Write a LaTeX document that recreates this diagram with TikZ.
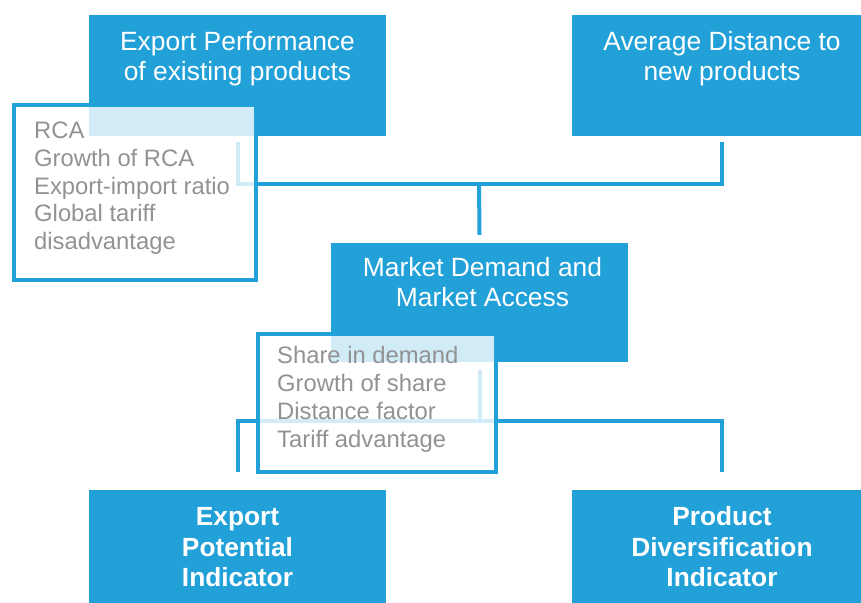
\documentclass[tikz,border=0pt]{standalone}
\usepackage{fontspec}
\setmainfont{Liberation Sans}
\usepackage{tikz}
\usetikzlibrary{positioning}
\definecolor{epblue}{RGB}{34,160,216}
\definecolor{epgray}{RGB}{146,146,148}

\tikzset{
  blockbox/.style={rectangle, fill=epblue, inner sep=0pt, minimum width=297pt, minimum height=121pt},
  listbox/.style={rectangle, draw=epblue, line width=4pt, fill=white, fill opacity=0.8, inner sep=0pt},
  headtext/.style={text=white, align=center, inner sep=0pt, font=\fontsize{26.4}{30}\selectfont},
  boldtext/.style={text=white, align=center, inner sep=0pt, font=\fontsize{26.3}{30.5}\selectfont\bfseries},
  listtext/.style={text=epgray, align=left, inner sep=0pt, font=\fontsize{23.8}{27.7}\selectfont},
  link/.style={draw=epblue, line width=4pt}
}

\begin{document}
\begin{tikzpicture}[x=1pt,y=-1pt]
\useasboundingbox (0,0) rectangle (861,602);
% Top boxes (base = baseline of the last line)
\node[blockbox] (perf) at (237.5,75.5) {};
\node[headtext, anchor=base] (perf-t) at ([yshift=-66pt]perf.north) {Export Performance\\of existing products};
\node[blockbox, minimum width=300pt] (dist) at (722,75.5) {};
\node[headtext, anchor=base] (dist-t) at ([yshift=-66pt]dist.north) {Average Distance to\\new products};
% Upper connector
\draw[link] ([yshift=-6pt]perf.south) -- ++(0,42) coordinate (hub1) -| ([yshift=-6pt]dist.south);
\coordinate (hub1m) at (479,184);
% Middle box
\node[blockbox, minimum height=119pt] (market) at (479.5,302.5) {};
\node[headtext, anchor=base] (market-t) at ([xshift=3pt,yshift=-64pt]market.north) {Market Demand and\\Market Access};
\draw[link] (hub1m) -- ([yshift=8pt]market.north);
% Lower connector
\draw[link] ([yshift=-8pt]market.south) -- ++(0,51) coordinate (hub2);
\node[blockbox, minimum height=120pt] (epi) at (237.5,550) {};
\node[blockbox, minimum width=300pt, minimum height=120pt] (pdi) at (722,550) {};
\draw[link] ([yshift=18pt]epi.north) |- (hub2) -| ([yshift=18pt]pdi.north);
% Lists of measures
\node[listbox, minimum width=242pt, minimum height=175pt] (perf-list) at (135,192.5) {};
\node[listtext, anchor=base west] (perf-items) at ([xshift=22pt,yshift=-146.5pt]perf-list.north west)
  {RCA\\Growth of RCA\\Export-import ratio\\Global tariff\\disadvantage};
\node[listbox, minimum width=238pt, minimum height=138pt] (market-list) at (377,403) {};
\node[listtext, anchor=base west] (market-items) at ([xshift=21pt,yshift=-115pt]market-list.north west)
  {Share in demand\\Growth of share\\Distance factor\\Tariff advantage};
% Indicators
\node[boldtext, anchor=base] (epi-t) at ([yshift=-97pt]epi.north) {Export\\Potential\\Indicator};
\node[boldtext, anchor=base] (pdi-t) at ([yshift=-97pt]pdi.north) {Product\\Diversification\\Indicator};
\end{tikzpicture}
\end{document}
